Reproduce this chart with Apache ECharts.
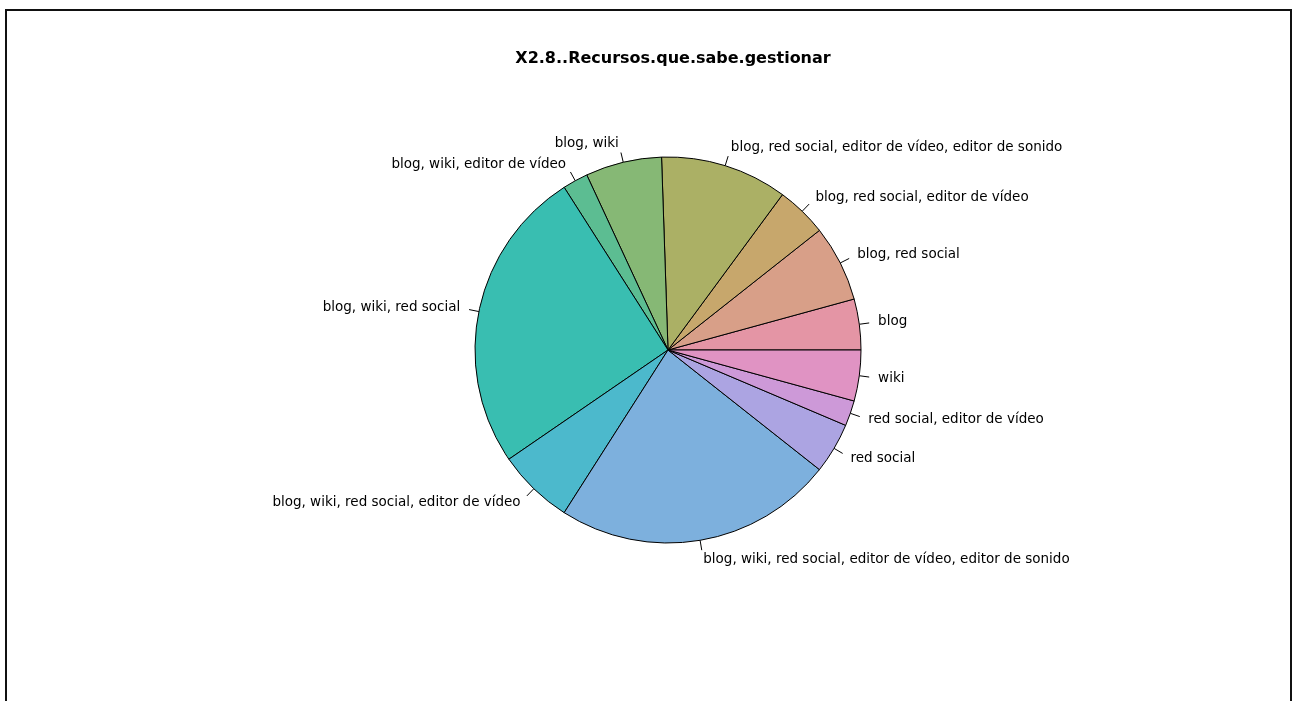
<!DOCTYPE html>
<html>
<head>
<meta charset="utf-8">
<script src="https://cdn.jsdelivr.net/npm/echarts@6/dist/echarts.min.js"></script>
<style>
  html, body { margin: 0; padding: 0; background: #fff; }
  #main { width: 1300px; height: 701px; }
</style>
</head>
<body>
<div id="main"></div>
<script>
// categories and counts, counter-clockwise from 3 o'clock
var categories = [
    'blog',
    'blog, red social',
    'blog, red social, editor de vídeo',
    'blog, red social, editor de vídeo, editor de sonido',
    'blog, wiki',
    'blog, wiki, editor de vídeo',
    'blog, wiki, red social',
    'blog, wiki, red social, editor de vídeo',
    'blog, wiki, red social, editor de vídeo, editor de sonido',
    'red social',
    'red social, editor de vídeo',
    'wiki'
];
var counts = [2, 3, 2, 5, 3, 1, 12, 3, 11, 2, 1, 2];

var palette = [
    '#E495A5', '#D89F88', '#C7A76C', '#ABB065', '#86B875', '#5CBD92',
    '#39BEB1', '#4CB9CC', '#7DB0DD', '#ACA4E2', '#CD99D8', '#E093C3'
];

var chart = echarts.init(document.getElementById('main'));

var data = categories.map(function (name, i) {
    return {name: name, value: counts[i], itemStyle: {color: palette[i]}};
});

// label sits at 1.1 r, tick only runs from r to 1.05 r
var labelLen = 19;
var tickLen = 10;

chart.setOption({
    animation: false,
    backgroundColor: '#fff',
    title: {
        text: 'X2.8..Recursos.que.sabe.gestionar',
        left: 668,
        textAlign: 'center',
        top: 46,
        textStyle: {
            fontFamily: 'DejaVu Sans, sans-serif',
            fontSize: 16,
            fontWeight: 'bold',
            color: '#000'
        }
    },
    graphic: [{
        type: 'rect',
        shape: {x: 6, y: 10, width: 1285, height: 700},
        style: {fill: null, stroke: '#111', lineWidth: 2},
        silent: true
    }],
    series: [{
        type: 'pie',
        center: [668, 350],
        radius: 193,
        startAngle: 0,
        clockwise: false,
        avoidLabelOverlap: false,
        silent: true,
        itemStyle: {borderColor: '#000', borderWidth: 1},
        label: {
            show: true,
            position: 'outside',
            color: '#000',
            fontSize: 13.5,
            fontFamily: 'DejaVu Sans, sans-serif',
            distanceToLabelLine: 0,
            padding: [3, 0, 0, 0]
        },
        labelLine: {
            show: true,
            length: labelLen,
            length2: 0,
            smooth: false,
            lineStyle: {color: '#000', width: 1}
        },
        labelLayout: function (params) {
            var pts = params.labelLinePoints;
            if (!pts) return {};
            var p0 = pts[0], p1 = pts[1];
            var t = tickLen / labelLen;
            var end = [p0[0] + (p1[0] - p0[0]) * t, p0[1] + (p1[1] - p0[1]) * t];
            return {labelLinePoints: [p0, end, end]};
        },
        emphasis: {disabled: true},
        data: data
    }]
});
</script>
</body>
</html>
